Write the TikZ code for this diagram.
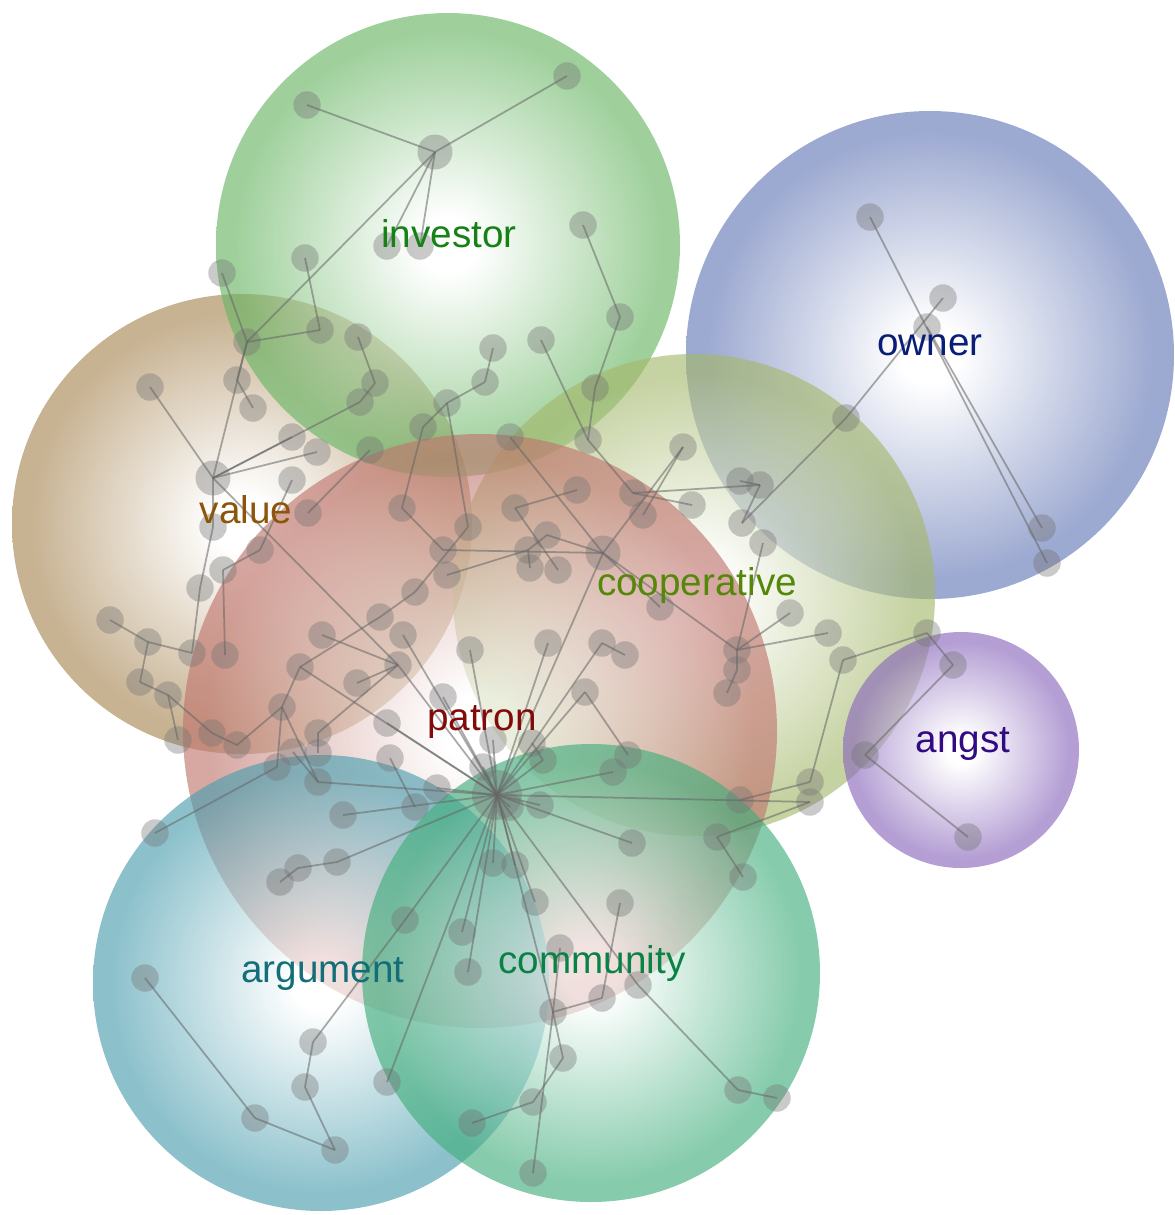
\documentclass[tikz,border=0pt]{standalone}
\usepackage{fontspec}
\setmainfont{Liberation Sans}

\definecolor{investorrim}{RGB}{105,182,100}
\definecolor{ownerrim}{RGB}{100,120,182}
\definecolor{valuerim}{RGB}{168,135,85}
\definecolor{cooprim}{RGB}{165,184,108}
\definecolor{patronrim}{RGB}{192,118,110}
\definecolor{argumentrim}{RGB}{75,158,175}
\definecolor{communityrim}{RGB}{66,174,125}
\definecolor{angstrim}{RGB}{138,104,188}
\colorlet{rimcolor}{investorrim}

\definecolor{investortext}{RGB}{20,130,20}
\definecolor{ownertext}{RGB}{10,30,120}
\definecolor{valuetext}{RGB}{140,85,10}
\definecolor{cooptext}{RGB}{85,135,10}
\definecolor{patrontext}{RGB}{130,10,10}
\definecolor{argumenttext}{RGB}{20,110,120}
\definecolor{communitytext}{RGB}{10,130,70}
\definecolor{angsttext}{RGB}{50,10,130}

\pgfdeclareradialshading[rimcolor]{bubble}{\pgfpoint{0bp}{0bp}}{color(0bp)=(white); color(3bp)=(white); color(23bp)=(rimcolor); color(25bp)=(rimcolor); color(50bp)=(rimcolor)}

\begin{document}
\begin{tikzpicture}[x=0.02cm, y=-0.02cm,
  bubble/.style={shading=bubble, fill opacity=0.64},
  dot/.style={circle, fill=black!55, fill opacity=0.38, inner sep=0pt, minimum size=0.55cm},
  hub/.style={dot, minimum size=0.7cm},
  link/.style={draw=black!60, draw opacity=0.55, line width=1pt},
  topic/.style={anchor=base, inner sep=0pt, font=\fontsize{22}{26}\selectfont}]
\useasboundingbox (0,0) rectangle (1175,1215);

% topic bubbles
\foreach \col/\x/\y/\r in {valuerim/242/524/230, investorrim/448/245/232, ownerrim/930/355/244,
    cooprim/694/595/241, patronrim/480/731/297, argumentrim/321/983/228,
    communityrim/591/973/229, angstrim/961/750/118} {
  \colorlet{rimcolor}{\col}
  \shade[bubble] (\x,\y) circle (\r);
}

% word nodes
\node[hub] (I2) at (435,152) {};
\node[hub] (V6) at (213,478) {};
\node[hub] (C1) at (603,553) {};
\node[hub, minimum size=1cm] (P0) at (497,795) {};
\foreach \n/\x/\y in {I1/307/105, I3/567/76, I4/387/246, I5/420/246, I6/583/225, I7/305/258,
    I8/222/273, I9/247/342, I10/320/330, I11/358/337, I12/375/383, I13/360/402, I14/620/317,
    I15/541/340, I16/493/348, I17/485/382, I18/447/403, I19/595/388, I20/423/427, I21/588/440,
    I22/510/437,
    V1/150/387, V2/237/380, V3/253/408, V4/292/437, V5/317/452, V7/292/480, V8/308/513,
    V9/213/527, V10/370/450, V11/260/550, V12/223/570, V13/200/588, V14/110/620, V15/148/642,
    V16/192/653, V17/225/655, V18/140/682, V19/168/695, V20/178/740, V21/212/733, V22/237/745,
    V23/282/707, V24/300/667, V25/322/635, V26/380/617, V27/415/592, V28/402/508, V29/468/527,
    V30/443/550, V31/447/575, V32/403/635,
    C2/577/490, C3/515/508, C4/547/535, C5/528/550, C6/530/568, C7/558/570, C8/633/493,
    C9/643/515, C10/683/447, C11/692/505, C12/740/481, C13/760/485, C14/742/523, C15/763/543,
    C16/660/607, C17/737/650, C18/737/670, C19/727/693, C20/790/613, C21/828/633, C22/843/660,
    C24/548/643, C25/602/643, C26/625/655, C27/585/692, C28/470/650, C29/810/782, C30/810/802,
    C31/740/800, C32/717/837, C33/743/877, C34/628/755, C35/613/772,
    O1/870/217, O2/943/298, O3/927/327, O4/1042/528, O5/1047/563, O6/846/418,
    A1/927/633, A2/953/665, A3/865/755, A4/968/837,
    P1/398/665, P2/357/683, P3/443/697, P4/387/723, P5/318/733, P6/318/753, P7/293/752,
    P8/277/767, P9/318/782, P10/390/758, P11/415/807, P12/437/788, P13/343/815, P14/155/833,
    P15/280/882, P16/298/868, P17/337/862, P18/483/767, P19/493/740, P20/532/743, P21/543/760,
    P22/540/805, P23/510/807, P24/632/843,
    R1/405/920, R2/313/1042, R3/305/1087, R4/335/1150, R5/255/1118, R6/145/978, R7/387/1082,
    M1/493/863, M2/515/865, M3/535/902, M4/462/932, M5/468/972, M6/553/1012, M7/563/1058,
    M8/533/1102, M9/472/1123, M10/533/1173, M11/602/998, M12/620/903, M13/638/985,
    M14/738/1090, M15/777/1098, M16/560/948}
  \node[dot] (\n) at (\x,\y) {};

% links
\foreach \a/\b in {I2/I1, I2/I3, I2/I4, I2/I5, I2/I9, I8/I9, I9/I10, I10/I7, I11/I12, I12/I13,
    I13/V6, I6/I14, I14/I19, I19/I21, I15/I21, I21/C8, I16/I17, I17/I18, I18/I20, I20/V28,
    I18/V29, I22/C1, V28/V30, V30/C1, V31/C5, C5/C4, C6/C5, C3/C2, C3/C7, C4/C1,
    V29/V27, V27/V26, V26/V24, I9/V6, V2/V3, V2/I9, V6/V1, V6/V4, V6/V5, V6/V9, V9/V13,
    V6/P1, V7/V11, V11/V12, V12/V17, V8/V10, V13/V16, V14/V15, V15/V16, V15/V18, V18/V19,
    V19/V20, V19/V21, V21/V22, V22/V23, V23/V24, V24/P0, V23/P8, P8/P14, V23/P9, P7/P9,
    V25/P1, V32/P0, P2/P1, P5/P1, P6/P5, P4/P0, P3/P0, P1/P0, P9/P0, P13/P0, P17/P0,
    P16/P17, P15/P16, P10/P11, P12/P0, P18/P0, P19/P0, P20/P21, P21/P0, P22/P0, P23/P0,
    P24/P0, C24/P0, C25/P0, C25/C26, C27/P0, C27/C34, C35/P0, C28/P0, C1/P0,
    C10/C1, C10/C9, C8/C13, C11/C8, C12/C13, C13/C14, C14/O6, O6/O2,
    C15/C17, C1/C17, C16/C1, C17/C18, C18/C19, C17/C20, C17/C21,
    C22/A1, A1/A2, A2/A3, A3/A4, C22/C29, C29/C31, C30/P0, C30/C32, C32/C33,
    O1/O5, O3/O4, R1/P0, R1/R2, R2/R3, R3/R4, R4/R5, R5/R6, R7/P0,
    M1/P0, M2/P0, M3/P0, M4/P0, M5/P0, M6/P0, M6/M7, M7/M8, M8/M9, M6/M10, M6/M11,
    M11/M12, M13/M14, M14/M15, M13/P0, M16/M6}
  \draw[link] (\a.center) -- (\b.center);

% topic labels
\node[topic, text=investortext] (investor) at (449,247) {investor};
\node[topic, text=ownertext] (owner) at (930,355) {owner};
\node[topic, text=valuetext] (value) at (246,523) {value};
\node[topic, text=cooptext] (cooperative) at (697,595) {cooperative};
\node[topic, text=patrontext] (patron) at (482,730) {patron};
\node[topic, text=argumenttext] (argument) at (323,982) {argument};
\node[topic, text=communitytext] (community) at (592,973) {community};
\node[topic, text=angsttext] (angst) at (963,752) {angst};
\end{tikzpicture}
\end{document}
